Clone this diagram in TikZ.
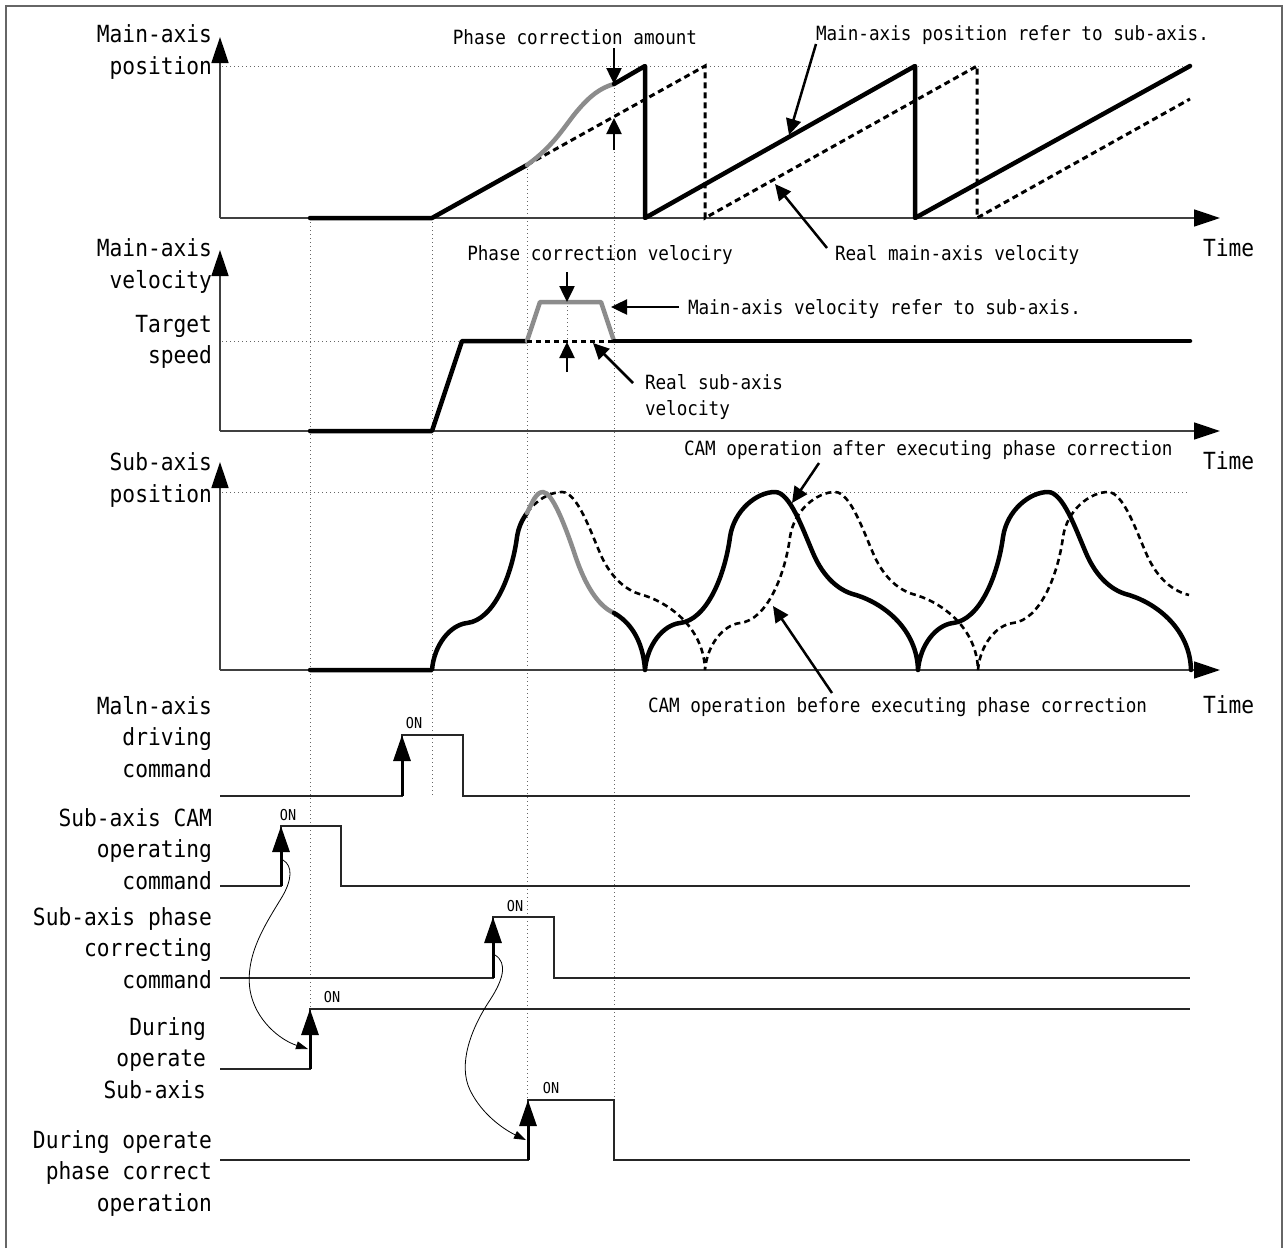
\documentclass[tikz,border=0pt]{standalone}
\usepackage{fontspec}
\newfontfamily\gmono{DejaVu Sans Mono}[FakeStretch=0.9]
\usetikzlibrary{arrows.meta}
\newcommand\camAB[1]{.. controls (#1+2,645) and (#1+18,625) .. (#1+35,623) .. controls (#1+62,620) and (#1+80,575) .. (#1+85,537)}
\newcommand\camC[1]{.. controls (#1+89,510) and (#1+112,492) .. (#1+130,492)}
\newcommand\camDE[1]{.. controls (#1+145,492) and (#1+158,530) .. (#1+168,553) .. controls (#1+176,572) and (#1+190,590) .. (#1+211,595)}
\newcommand\camF[1]{.. controls (#1+240,604) and (#1+272,630) .. (#1+273,670)}
\begin{document}
\begin{tikzpicture}[x=1pt,y=-1pt,
  every node/.style={inner sep=0pt, outer sep=0pt},
  lbl/.style={font=\gmono\fontsize{23.6}{31.5}\selectfont, align=right, anchor=east},
  ann/.style={font=\gmono\fontsize{19.6}{26}\selectfont},
  onlbl/.style={font=\gmono\fontsize{15}{16}\selectfont},
  axis/.style={line width=1.5pt, draw=black!75, -{Triangle[length=26pt,width=17pt,color=black]}},
  guide/.style={draw=black!60, line width=1pt, dash pattern=on 1pt off 3pt},
  bold/.style={line width=4.5pt, line cap=round, line join=round},
  grayc/.style={bold, draw=black!45},
  dashc/.style={line width=3pt, dash pattern=on 6pt off 4pt},
  dashv/.style={line width=3pt, dash pattern=on 5pt off 4pt},
  dashcam/.style={line width=2.6pt, dash pattern=on 6pt off 4pt},
  sig/.style={line width=1.5pt, draw=black!85},
  sigarrow/.style={line width=3pt, -{Triangle[length=26pt,width=17pt]}},
  ptr/.style={line width=2.5pt, -{Triangle[length=16pt,width=15pt]}},
  thinarr/.style={line width=0.8pt, -{Triangle[length=12pt,width=8pt]}},
]
\useasboundingbox (0,0) rectangle (1288,1248);
\fill[white] (0,0) rectangle (1288,1248);
\draw[black!60, line width=2pt] (6,1248) -- (6,6) -- (1282,6) -- (1282,1248);

% guides
\draw[guide] (222,66) -- (1190,66);
\draw[guide] (222,341) -- (462,341);
\draw[guide] (222,492) -- (1190,492);
\draw[guide] (310,218) -- (310,1009);
\draw[guide] (432,218) -- (432,796);
\draw[guide] (527,165) -- (527,1100);
\draw[guide] (614,84) -- (614,1100);
\draw[guide] (567,302) -- (567,341);

% axes
\coordinate (o1) at (220,218);
\coordinate (o2) at (220,431);
\coordinate (o3) at (220,670);
\draw[axis] (o1) -- (220,37);
\draw[axis] (o1) -- (1220,218);
\draw[axis] (o2) -- (220,250);
\draw[axis] (o2) -- (1220,431);
\draw[axis] (o3) -- (220,462);
\draw[axis] (o3) -- (1220,670);

% axis labels
\node[lbl] (l1) at (212,52) {Main-axis\\position};
\node[lbl] (l2) at (212,266) {Main-axis\\velocity};
\node[lbl] (l3) at (212,342) {Target\\speed};
\node[lbl] (l4) at (212,480) {Sub-axis\\position};
\node[lbl] (l5) at (212,737) {Maln-axis\\driving\\command};
\node[lbl] (l6) at (212,849) {Sub-axis CAM\\operating\\command};
\node[lbl] (l7) at (212,948) {Sub-axis phase\\correcting\\command};
\node[lbl] (l8) at (206,1058) {During\\operate\\Sub-axis};
\node[lbl] (l9) at (212,1173) {During operate\\phase correct\\operation};
\node[lbl, anchor=west] (t1) at (1203,248) {Time};
\node[lbl, anchor=west] (t2) at (1203,461) {Time};
\node[lbl, anchor=west] (t3) at (1203,705) {Time};

% panel 1
\draw[dashc] (527,165) -- (705,66) -- (705,218) -- (977,66) -- (977,218) -- (1190,99);
\draw[bold] (310,218) -- (432,218) -- (527,165);
\draw[grayc] (527,165) .. controls (555,145) and (565,125) .. (578,110) .. controls (590,96) and (600,88) .. (614,84);
\draw[bold] (614,84) -- (645,66) -- (645,218) -- (915,66) -- (915,218) -- (1190,66);

% panel 2
\draw[bold] (310,431) -- (432,431) -- (462,341) -- (527,341);
\draw[grayc] (527,341) -- (540,302) -- (601,302) -- (614,341);
\draw[dashv] (527,341) -- (614,341);
\draw[bold] (614,341) -- (1190,341);

% panel 3
\draw[dashcam] (527,513) .. controls (536,500) and (550,492) .. (562,492) \camDE{432}\camF{432}\camAB{705}\camC{705}\camDE{705}\camF{705}\camAB{978}\camC{978}\camDE{978};
\draw[bold] (310,670) -- (432,670) \camAB{432} .. controls (518.3,528) and (521.8,520) .. (527,513);
\draw[grayc] (527,513) .. controls (532,503) and (536,492) .. (543,492) .. controls (552,492) and (565,525) .. (575,555) .. controls (585,585) and (598,606) .. (614,613);
\draw[bold] (614,613) .. controls (630,622) and (643,640) .. (645,670) \camAB{645}\camC{645}\camDE{645}\camF{645}\camAB{918}\camC{918}\camDE{918}\camF{918};

% annotations
\node[ann] (pca) at (575,37) {Phase correction amount};
\node[ann, anchor=west] (mpr) at (816,35) {Main-axis position refer to sub-axis.};
\node[ann] (pcv) at (600,255) {Phase correction velociry};
\node[ann, anchor=west] (rmv) at (835,255) {Real main-axis velocity};
\node[ann, anchor=west] (mvr) at (688,309) {Main-axis velocity refer to sub-axis.};
\node[ann, anchor=west, align=left] (rsv) at (645,397) {Real sub-axis\\velocity};
\node[ann, anchor=west] (cama) at (684,450) {CAM operation after executing phase correction};
\node[ann, anchor=west] (camb) at (648,707) {CAM operation before executing phase correction};

\coordinate (a1s) at (614,48);  \coordinate (a1e) at (614,84);
\coordinate (a2s) at (614,150); \coordinate (a2e) at (614,118);
\coordinate (a3s) at (816,44);  \coordinate (a3e) at (789,135);
\coordinate (a4s) at (827,248); \coordinate (a4e) at (775,184);
\coordinate (a5s) at (567,272); \coordinate (a5e) at (567,302);
\coordinate (a6s) at (567,372); \coordinate (a6e) at (567,342);
\coordinate (a7s) at (679,307); \coordinate (a7e) at (611,307);
\coordinate (a8s) at (633,383); \coordinate (a8e) at (593,343);
\coordinate (a9s) at (819,463); \coordinate (a9e) at (792,503);
\coordinate (a10s) at (832,693); \coordinate (a10e) at (773,606);
\foreach \i in {1,...,10} {\draw[ptr] (a\i s) -- (a\i e);}

% timing signals
\draw[sig] (220,796) -- (402,796) -- (402,735) -- (463,735) -- (463,796) -- (1190,796);
\draw[sig] (220,886) -- (281,886) -- (281,826) -- (341,826) -- (341,886) -- (1190,886);
\draw[sig] (220,978) -- (493,978) -- (493,917) -- (554,917) -- (554,978) -- (1190,978);
\draw[sig] (220,1069) -- (310,1069) -- (310,1009) -- (1190,1009);
\draw[sig] (220,1160) -- (528,1160) -- (528,1100) -- (614,1100) -- (614,1160) -- (1190,1160);

\coordinate (s1b) at (402,796);  \coordinate (s1t) at (402,735);
\coordinate (s2b) at (281,886);  \coordinate (s2t) at (281,826);
\coordinate (s3b) at (493,978);  \coordinate (s3t) at (493,917);
\coordinate (s4b) at (310,1069); \coordinate (s4t) at (310,1009);
\coordinate (s5b) at (528,1160); \coordinate (s5t) at (528,1100);
\foreach \i in {1,...,5} {\draw[sigarrow] (s\i b) -- (s\i t);}

\node[onlbl] (on1) at (414,723) {ON};
\node[onlbl] (on2) at (288,815) {ON};
\node[onlbl] (on3) at (515,906) {ON};
\node[onlbl] (on4) at (332,997) {ON};
\node[onlbl] (on5) at (551,1088) {ON};

% causal curved arrows
\coordinate (c1s) at (283,860); \coordinate (c1e) at (308,1049);
\coordinate (c2s) at (495,955); \coordinate (c2e) at (526,1140);
\draw[thinarr] (c1s) .. controls (293,866) and (292,880) .. (282,897) .. controls (265,925) and (245,955) .. (250,990) .. controls (255,1020) and (280,1040) .. (c1e);
\draw[thinarr] (c2s) .. controls (508,963) and (503,980) .. (490,1000) .. controls (470,1030) and (458,1065) .. (470,1090) .. controls (482,1115) and (505,1130) .. (c2e);
\end{tikzpicture}
\end{document}
